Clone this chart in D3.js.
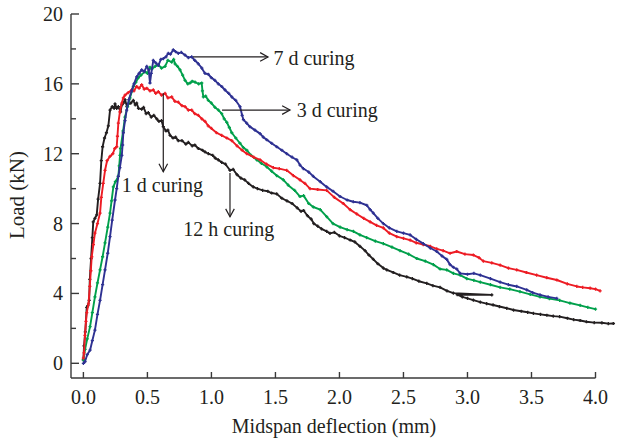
<!DOCTYPE html>
<html>
<head>
<meta charset="utf-8">
<script src="https://cdn.jsdelivr.net/npm/d3@7"></script>
<style>
  html, body { margin: 0; padding: 0; background: #fff; }
  svg text { font-family: "Liberation Serif", "DejaVu Serif", serif; fill: #231f20; }
</style>
</head>
<body>
<svg id="chart" width="622" height="443"></svg>
<script>
// Load–deflection curves, [midspan deflection (mm), load (kN)]
const curing12h = [[0.00,0.2],[0.005,1.0],[0.015,1.8],[0.026,3.2],[0.035,3.3],[0.045,3.6],[0.05,4.8],[0.06,6.0],[0.07,7.2],[0.077,8.1],[0.09,8.3],[0.104,8.5],[0.115,9.4],[0.13,10.3],[0.14,11.6],[0.15,12.4],[0.165,12.9],[0.18,13.2],[0.195,13.6],[0.208,14.5],[0.225,14.7],[0.24,14.6],[0.247,14.85],[0.26,14.6],[0.273,14.7],[0.29,14.4],[0.30,14.8],[0.312,14.9],[0.325,15.1],[0.34,14.7],[0.351,14.85],[0.37,14.9],[0.39,15.05],[0.405,14.8],[0.416,14.9],[0.43,14.6],[0.455,14.55],[0.47,14.65],[0.49,14.3],[0.507,14.35],[0.53,14.1],[0.55,14.2],[0.573,14.0],[0.59,13.85],[0.61,13.9],[0.624,13.55],[0.645,13.3],[0.66,13.35],[0.677,13.05],[0.70,12.9],[0.72,12.95],[0.741,12.75],[0.77,12.75],[0.80,12.55],[0.82,12.65],[0.85,12.45],[0.87,12.5],[0.898,12.3],[0.93,12.2],[0.95,12.1],[0.976,12.0],[1.01,11.9],[1.03,11.75],[1.054,11.65],[1.08,11.5],[1.11,11.4],[1.145,11.05],[1.17,11.1],[1.2,10.8],[1.23,10.6],[1.26,10.5],[1.29,10.3],[1.327,10.1],[1.36,10.0],[1.4,9.9],[1.44,9.85],[1.47,9.75],[1.51,9.7],[1.55,9.45],[1.59,9.3],[1.63,9.15],[1.67,8.9],[1.7,8.7],[1.72,8.75],[1.75,8.45],[1.78,8.25],[1.8,8.0],[1.83,7.85],[1.86,7.7],[1.9,7.55],[1.926,7.44],[1.96,7.5],[2.0,7.3],[2.04,7.2],[2.083,7.06],[2.12,6.95],[2.16,6.7],[2.2,6.45],[2.23,6.2],[2.265,5.95],[2.3,5.7],[2.343,5.45],[2.37,5.35],[2.42,5.2],[2.47,5.05],[2.526,4.95],[2.57,4.85],[2.62,4.7],[2.682,4.58],[2.73,4.45],[2.786,4.35],[2.84,4.15],[2.89,4.02],[3.19,3.92],[2.92,3.93],[2.96,3.8],[3.0,3.72],[3.046,3.62],[3.1,3.5],[3.15,3.42],[3.2,3.34],[3.25,3.25],[3.307,3.15],[3.36,3.05],[3.42,2.98],[3.47,2.92],[3.515,2.86],[3.57,2.8],[3.62,2.75],[3.67,2.7],[3.72,2.67],[3.78,2.58],[3.83,2.5],[3.88,2.45],[3.93,2.38],[3.99,2.33],[4.05,2.32],[4.1,2.27],[4.14,2.28]];

const curing1d = [[0.0,0.3],[0.005,0.6],[0.012,1.6],[0.02,2.4],[0.026,2.9],[0.04,3.4],[0.05,4.4],[0.058,5.3],[0.065,6.1],[0.078,6.8],[0.09,7.45],[0.11,8.0],[0.13,8.6],[0.14,9.5],[0.155,10.3],[0.169,11.05],[0.185,11.6],[0.208,11.85],[0.23,12.0],[0.245,12.3],[0.26,12.4],[0.266,13.0],[0.273,13.75],[0.285,14.4],[0.3,14.9],[0.312,15.2],[0.325,15.35],[0.35,15.5],[0.377,15.65],[0.395,15.6],[0.416,15.85],[0.435,15.75],[0.455,15.95],[0.475,15.7],[0.495,15.75],[0.52,15.6],[0.546,15.65],[0.565,15.45],[0.585,15.55],[0.61,15.35],[0.638,15.45],[0.66,15.2],[0.69,15.25],[0.715,15.0],[0.741,14.95],[0.77,14.75],[0.794,14.7],[0.82,14.5],[0.846,14.5],[0.87,14.3],[0.898,14.2],[0.925,14.0],[0.95,13.85],[0.975,13.6],[1.0,13.45],[1.04,13.2],[1.08,13.05],[1.12,12.9],[1.159,12.75],[1.2,12.45],[1.24,12.2],[1.276,12.0],[1.33,11.8],[1.38,11.65],[1.43,11.4],[1.484,11.2],[1.53,11.15],[1.588,11.05],[1.64,10.75],[1.692,10.5],[1.73,10.3],[1.77,10.0],[1.83,9.95],[1.9,9.9],[1.96,9.5],[2.03,9.15],[2.083,8.8],[2.135,8.55],[2.19,8.3],[2.24,8.1],[2.29,7.9],[2.343,7.75],[2.39,7.45],[2.448,7.25],[2.5,7.15],[2.552,7.05],[2.6,6.9],[2.655,6.8],[2.71,6.7],[2.76,6.55],[2.81,6.45],[2.864,6.3],[2.916,6.4],[2.98,6.25],[3.046,6.2],[3.09,6.05],[3.124,5.85],[3.19,5.75],[3.255,5.62],[3.32,5.45],[3.385,5.35],[3.46,5.2],[3.54,5.05],[3.62,4.9],[3.698,4.77],[3.78,4.55],[3.854,4.4],[3.9,4.35],[3.958,4.3],[4.0,4.25],[4.036,4.15]];

const curing3d = [[0.0,0.2],[0.013,0.8],[0.03,1.4],[0.052,2.1],[0.07,2.9],[0.09,3.8],[0.11,4.6],[0.13,5.35],[0.15,6.1],[0.169,6.9],[0.19,7.8],[0.208,8.6],[0.22,9.3],[0.234,10.1],[0.25,10.4],[0.273,10.7],[0.28,11.3],[0.286,11.9],[0.29,12.3],[0.31,13.3],[0.325,14.1],[0.345,14.7],[0.364,15.2],[0.38,15.6],[0.39,15.85],[0.41,16.1],[0.429,16.35],[0.45,16.5],[0.481,16.7],[0.5,16.6],[0.52,16.95],[0.534,16.85],[0.56,17.0],[0.585,17.1],[0.61,16.9],[0.638,17.0],[0.66,17.35],[0.69,17.25],[0.705,17.4],[0.716,17.15],[0.735,17.0],[0.755,16.8],[0.775,16.5],[0.794,16.2],[0.815,16.0],[0.833,16.05],[0.85,16.15],[0.872,16.1],[0.9,16.0],[0.924,16.05],[0.93,15.6],[0.937,15.25],[0.955,15.3],[0.976,15.05],[1.0,14.9],[1.028,14.65],[1.055,14.5],[1.08,14.3],[1.1,14.0],[1.12,13.8],[1.14,13.5],[1.159,13.2],[1.19,12.9],[1.223,12.6],[1.25,12.35],[1.276,12.2],[1.31,11.9],[1.354,11.65],[1.39,11.45],[1.432,11.25],[1.47,11.0],[1.51,10.75],[1.562,10.5],[1.6,10.2],[1.65,9.9],[1.692,9.55],[1.72,9.6],[1.76,9.15],[1.796,8.95],[1.85,8.8],[1.9,8.4],[1.95,8.0],[2.005,7.8],[2.06,7.65],[2.109,7.55],[2.16,7.35],[2.213,7.2],[2.28,7.0],[2.343,6.85],[2.41,6.65],[2.473,6.45],[2.54,6.25],[2.604,6.0],[2.67,5.85],[2.734,5.65],[2.786,5.4],[2.838,5.35],[2.89,5.15],[2.943,5.05],[2.995,4.85],[3.05,4.75],[3.1,4.65],[3.18,4.5],[3.255,4.35],[3.33,4.25],[3.41,4.1],[3.49,3.95],[3.567,3.8],[3.64,3.7],[3.72,3.6],[3.8,3.45],[3.88,3.32],[3.94,3.2],[4.0,3.1]];

const curing7d = [[0.0,0.0],[0.013,0.1],[0.03,0.5],[0.052,0.75],[0.07,1.3],[0.09,1.9],[0.11,2.8],[0.13,3.6],[0.15,4.5],[0.169,5.35],[0.19,6.3],[0.208,7.25],[0.225,8.2],[0.247,9.35],[0.26,10.0],[0.273,10.7],[0.285,11.2],[0.3,11.9],[0.306,12.5],[0.312,13.2],[0.325,13.9],[0.338,14.5],[0.355,15.1],[0.377,15.6],[0.395,16.0],[0.416,16.4],[0.435,16.6],[0.455,16.8],[0.475,16.7],[0.495,17.0],[0.51,16.8],[0.52,16.05],[0.53,16.6],[0.546,17.35],[0.565,17.2],[0.585,17.05],[0.605,17.4],[0.624,17.45],[0.645,17.55],[0.663,17.75],[0.68,17.7],[0.702,17.95],[0.72,17.85],[0.741,17.75],[0.765,17.8],[0.794,17.65],[0.82,17.5],[0.846,17.55],[0.87,17.35],[0.898,17.15],[0.925,16.9],[0.95,16.6],[0.975,16.55],[1.0,16.35],[1.027,16.2],[1.054,16.0],[1.08,15.85],[1.106,15.65],[1.135,15.45],[1.159,15.25],[1.19,15.05],[1.223,14.7],[1.24,14.2],[1.25,13.95],[1.275,13.75],[1.3,13.55],[1.34,13.35],[1.38,13.15],[1.405,12.95],[1.432,12.8],[1.47,12.6],[1.51,12.4],[1.55,12.2],[1.588,12.0],[1.63,11.8],[1.667,11.65],[1.692,11.35],[1.718,11.15],[1.76,10.95],[1.796,10.7],[1.85,10.4],[1.9,10.1],[1.95,9.85],[2.005,9.55],[2.06,9.35],[2.109,9.25],[2.16,9.2],[2.213,9.05],[2.24,8.8],[2.265,8.6],[2.3,8.3],[2.343,8.0],[2.39,7.75],[2.448,7.55],[2.5,7.45],[2.552,7.35],[2.6,7.1],[2.655,6.85],[2.71,6.6],[2.76,6.4],[2.8,6.15],[2.838,5.95],[2.864,5.65],[2.89,5.5],[2.916,5.4],[2.943,5.15],[3.0,5.1],[3.05,5.15],[3.1,5.05],[3.18,4.85],[3.255,4.65],[3.32,4.5],[3.385,4.4],[3.463,4.2],[3.51,4.05],[3.567,3.92],[3.63,3.8],[3.698,3.72]];

// Series drawn back to front
const seriesNames = ["12 h curing", "3 d curing", "1 d curing", "7 d curing"];
const seriesData = [curing12h, curing3d, curing1d, curing7d];
const seriesColors = ["#231f20", "#00a04b", "#ed1c24", "#2e3192"];

const xTicks = [0, 0.5, 1.0, 1.5, 2.0, 2.5, 3.0, 3.5, 4.0];
const yTicks = [0, 2, 4, 6, 8, 10, 12, 14, 16, 18, 20];
const yLabelTicks = [0, 4, 8, 12, 16, 20];

// Annotation arrows in data units: label, arrow start, arrow end, text anchor point
const noteLabels = ["7 d curing", "3 d curing", "1 d curing", "12 h curing"];
const noteFrom = [[0.856, 17.54], [1.083, 14.5], [0.624, 15.46], [1.145, 10.9]];
const noteTo = [[1.442, 17.54], [1.614, 14.5], [0.624, 10.97], [1.145, 8.39]];
const noteText = [[1.484, 17.1], [1.666, 14.12], [0.3, 9.83], [0.78, 7.29]];

const svg = d3.select("#chart");
const x = d3.scaleLinear().domain([0, 4]).range([83.4, 595.5]);
const y = d3.scaleLinear().domain([0, 20]).range([363.3, 14]);
const axisColor = "#3a3a3a";
const axisY0 = 378, axisX0 = 71;

// Axes frame
const ax = svg.append("g").attr("stroke", axisColor).attr("stroke-width", 1.4).attr("fill", "none");
ax.append("line").attr("x1", axisX0).attr("x2", axisX0).attr("y1", y(20)).attr("y2", axisY0);
ax.append("line").attr("x1", axisX0).attr("x2", x(4)).attr("y1", axisY0).attr("y2", axisY0);

// Y ticks (inward, major every 4 kN)
ax.selectAll(".yt").data(yTicks).join("line")
  .attr("x1", axisX0).attr("x2", d => axisX0 + (d % 4 === 0 ? 8 : 5))
  .attr("y1", d => y(d)).attr("y2", d => y(d));
// X ticks (inward)
ax.selectAll(".xt").data(xTicks).join("line")
  .attr("x1", d => x(d)).attr("x2", d => x(d))
  .attr("y1", axisY0).attr("y2", axisY0 - 6);

svg.selectAll(".ylab").data(yLabelTicks).join("text")
  .attr("x", 63).attr("y", d => y(d)).attr("dy", "0.35em")
  .attr("text-anchor", "end").attr("font-size", 20)
  .text(d => d);
svg.selectAll(".xlab").data(xTicks).join("text")
  .attr("x", d => x(d)).attr("y", 404)
  .attr("text-anchor", "middle").attr("font-size", 20)
  .text(d => d3.format(".1f")(d));

svg.append("text").attr("x", 334).attr("y", 433).attr("text-anchor", "middle")
  .attr("font-size", 20).text("Midspan deflection (mm)");
svg.append("text").attr("transform", "translate(24,195) rotate(-90)")
  .attr("text-anchor", "middle").attr("font-size", 21).text("Load (kN)");

// Curves
const line = d3.line().x(d => x(d[0])).y(d => y(d[1]));
seriesData.forEach((data, i) => {
  const g = svg.append("g").attr("class", "series").attr("data-name", seriesNames[i]);
  g.append("path").datum(data).attr("d", line)
    .attr("fill", "none").attr("stroke", seriesColors[i])
    .attr("stroke-width", 1.9).attr("stroke-linejoin", "round");
  // small cross markers at each recorded point
  g.selectAll("path.mk").data(data).join("path").attr("class", "mk")
    .attr("d", d => `M${x(d[0]) - 1.6},${y(d[1])}h3.2M${x(d[0])},${y(d[1]) - 1.6}v3.2`)
    .attr("stroke", seriesColors[i]).attr("stroke-width", 1.3);
});

// Annotations with open arrowheads
const ann = svg.append("g").attr("stroke", "#231f20").attr("stroke-width", 1.2).attr("fill", "none");
noteLabels.forEach((lab, i) => {
  const x1 = x(noteFrom[i][0]), y1 = y(noteFrom[i][1]);
  const x2 = x(noteTo[i][0]), y2 = y(noteTo[i][1]);
  ann.append("line").attr("x1", x1).attr("y1", y1).attr("x2", x2).attr("y2", y2);
  const a = Math.atan2(y2 - y1, x2 - x1), L = 9, W = 0.5;
  ann.append("path").attr("d",
    `M${x2 - L * Math.cos(a - W)},${y2 - L * Math.sin(a - W)}L${x2},${y2}L${x2 - L * Math.cos(a + W)},${y2 - L * Math.sin(a + W)}`);
  svg.append("text").attr("x", x(noteText[i][0])).attr("y", y(noteText[i][1]))
    .attr("font-size", 20).text(lab);
});
</script>
</body>
</html>
